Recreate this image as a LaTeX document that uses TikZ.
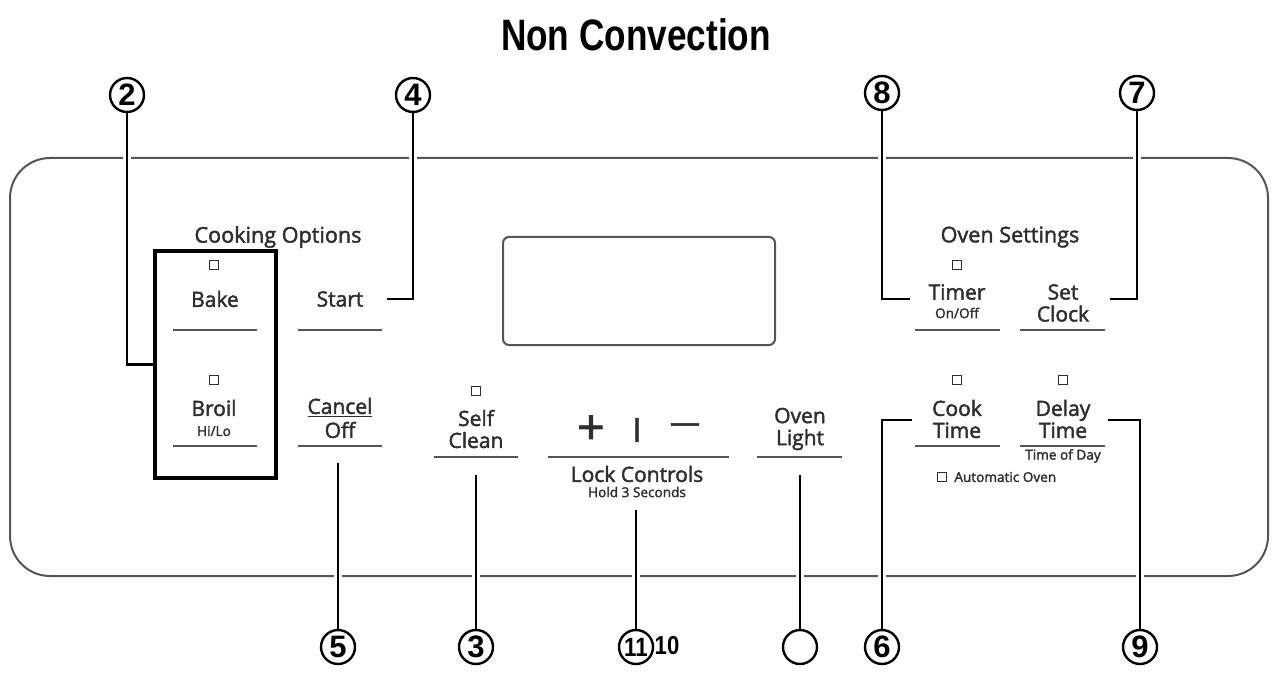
\documentclass[tikz,border=0pt]{standalone}
\usepackage{fontspec}
\setmainfont{Open Sans}[FakeBold=2]
\newfontfamily\headfont{Liberation Sans}
\usetikzlibrary{positioning}
\definecolor{inkgray}{HTML}{2E2E2E}
\definecolor{rulegray}{HTML}{555555}

\begin{document}
\begin{tikzpicture}[x=0.5pt, y=-0.5pt, every node/.style={text=inkgray, inner sep=0pt}]
    \tikzstyle{callout} = [circle, draw=black, line width=1.2pt, minimum size=17pt, text=black, font=\headfont\bfseries\fontsize{15.5}{15.5}\selectfont]
    \tikzstyle{leader} = [draw=black, line width=1.2pt, preaction={draw=white, line width=4pt, shorten <=5pt, shorten >=5pt}]
    \tikzstyle{rule} = [draw=rulegray, line width=0.9pt]
    \tikzstyle{btn} = [align=center, font=\fontsize{10.5}{11}\selectfont]
    \tikzstyle{small} = [align=center, font=\fontsize{6.8}{8}\selectfont]
    \tikzstyle{grouptitle} = [font=\fontsize{10.8}{12}\selectfont]
    \tikzstyle{ledbox} = [draw=inkgray, line width=0.5pt, minimum size=4.5pt]

    \useasboundingbox (0,0) rectangle (1273,679);

    % panel and display
    \draw[draw=rulegray, line width=1pt, rounded corners=20pt] (10,158) rectangle (1268,576);
    \draw[draw=rulegray, line width=1pt, rounded corners=3pt] (503,237) rectangle (775,345);

    \node[text=black, font=\headfont\bfseries\fontsize{22}{22}\selectfont] (title) at (636,35) {\scalebox{0.8}[1]{Non Convection}};

    % cooking options
    \node[grouptitle] (cookopt) at (278,237) {Cooking Options};
    \node[draw=black, line width=2pt, minimum width=60.5pt, minimum height=113.5pt] (cookbox) at (215.5,364.5) {};
    \node[ledbox] (bakeled) at (214,265) {};
    \node[btn] (bake) at (215,299) {Bake};
    \draw[rule] (173,330) -- (257,330);
    \node[ledbox] (broilled) at (214,380) {};
    \node[btn] (broil) at (214,408) {Broil};
    \node[small] (hilo) at (214,431) {Hi/Lo};
    \draw[rule] (173,446) -- (257,446);
    \node[btn] (start) at (340,299) {Start};
    \draw[rule] (298,330) -- (382,330);
    \node[btn] (cancel) at (340,418) {\underline{Cancel}\\[1pt]Off};
    \draw[rule] (298,446) -- (382,446);

    % middle row
    \node[ledbox] (selfled) at (476,391) {};
    \node[btn] (selfclean) at (476,429) {Self\\Clean};
    \draw[rule] (434,457) -- (518,457);
    \node[font=\fontsize{24}{24}\selectfont] (plus) at (591,430) {+};
    \node[font=\fontsize{12}{12}\selectfont\bfseries] (bar) at (637,430) {|};
    \node[font=\fontsize{15}{15}\selectfont] (minus) at (685,428) {—};
    \draw[rule] (548,457) -- (729,457);
    \node[btn] (lock) at (637,474) {Lock Controls};
    \node[small] (hold) at (637,492) {Hold 3 Seconds};
    \node[btn] (light) at (800,429) {Oven\\Light};
    \draw[rule] (757,457) -- (842,457);

    % oven settings
    \node[grouptitle] (ovenset) at (1010,237) {Oven Settings};
    \node[ledbox] (timerled) at (957,265) {};
    \node[btn] (timer) at (957,292) {Timer};
    \node[small] (onoff) at (957,313) {On/Off};
    \draw[rule] (915,330) -- (1000,330);
    \node[btn] (setclock) at (1063,303) {Set\\Clock};
    \draw[rule] (1020,330) -- (1105,330);
    \node[ledbox] (cookled) at (957,380) {};
    \node[btn] (cooktime) at (957,419) {Cook\\Time};
    \draw[rule] (915,446) -- (1000,446);
    \node[ledbox] (delayled) at (1063,380) {};
    \node[btn] (delaytime) at (1063,419) {Delay\\Time};
    \draw[rule] (1020,446) -- (1105,446);
    \node[small] (timeofday) at (1063,456) {Time of Day};
    \node[ledbox] (autoled) at (942,477) {};
    \node[small, right=3.5pt of autoled] (autooven) {Automatic Oven};

    % callouts
    \node[callout] (c2) at (127,95) {2};
    \node[callout] (c4) at (413,95) {4};
    \node[callout] (c8) at (882,93) {8};
    \node[callout] (c7) at (1137,93) {7};
    \node[callout] (c5) at (338,647) {5};
    \node[callout] (c3) at (476,647) {3};
    \node[callout] (c11) at (636,647) {\scalebox{0.72}[0.85]{11}};
    \node[text=black, font=\headfont\bfseries\fontsize{13}{13}\selectfont] (ten) at (667,646) {\scalebox{0.85}[1]{10}};
    \node[callout] (clight) at (800,647) {};
    \node[callout] (c6) at (882,647) {6};
    \node[callout] (c9) at (1140,647) {9};

    \coordinate (start4) at (387,299);
    \coordinate (timer8) at (910,299);
    \coordinate (clock7) at (1110,299);
    \coordinate (cook6) at (912,420);
    \coordinate (delay9) at (1108,420);
    \coordinate (cancel5) at (338,463);
    \coordinate (self3) at (476,475);
    \coordinate (lock11) at (636,510);
    \coordinate (light0) at (800,475);

    \path[leader] (c2) |- (cookbox.west);
    \path[leader] (c4) |- (start4);
    \path[leader] (c8) |- (timer8);
    \path[leader] (c7) |- (clock7);
    \path[leader] (cook6) -| (c6);
    \path[leader] (delay9) -| (c9);
    \path[leader] (cancel5) -- (c5);
    \path[leader] (self3) -- (c3);
    \path[leader] (lock11) -- (c11);
    \path[leader] (light0) -- (clight);
\end{tikzpicture}
\end{document}
